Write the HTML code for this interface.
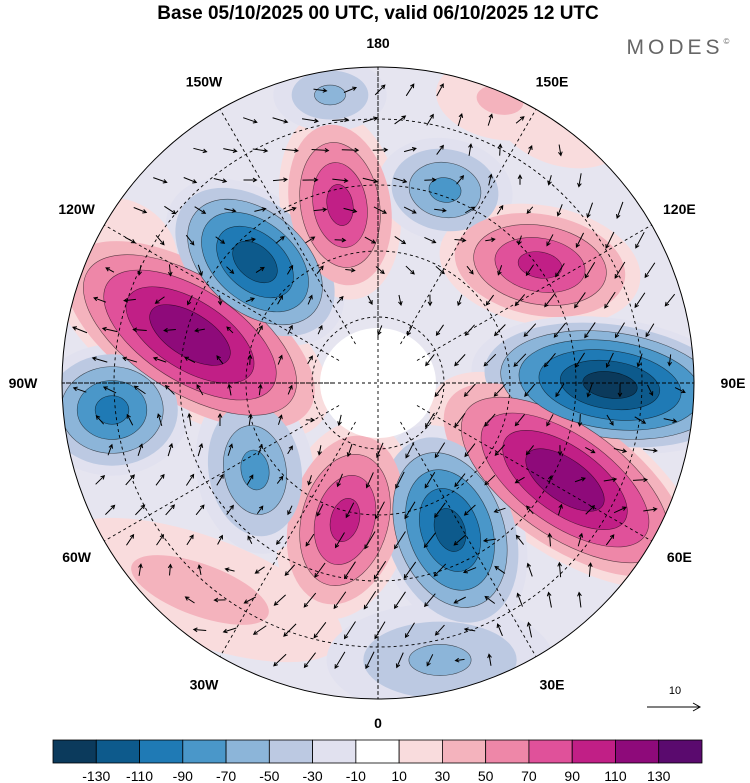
<!DOCTYPE html>
<html><head><meta charset="utf-8"><style>
body{margin:0;background:#fff;font-family:"Liberation Sans",sans-serif}
svg{display:block}
</style></head><body>
<svg id="chart" width="750" height="783" xmlns="http://www.w3.org/2000/svg">
<text x="378" y="19" text-anchor="middle" font-size="19" font-weight="bold" font-family="Liberation Sans">Base 05/10/2025 00 UTC, valid 06/10/2025 12 UTC</text>
<text x="680" y="54" text-anchor="middle" font-size="21" fill="#666" letter-spacing="4" font-family="Liberation Sans">MODES<tspan font-size="8" dy="-10">©</tspan></text>
<defs><clipPath id="disc"><circle cx="378" cy="383" r="316"/></clipPath></defs>
<g id="map" clip-path="url(#disc)">
<circle cx="378" cy="383" r="316" fill="#e6e5f0"/>
<g id="blobs"></g>
<ellipse cx="378" cy="383" rx="58" ry="55" fill="#ffffff"/>
<g id="grid" fill="none" stroke="#000" stroke-width="0.9" stroke-dasharray="3,3"></g>
<g id="arrows" stroke="#000" stroke-width="1" fill="none"></g>
</g>
<circle cx="378" cy="383" r="316" fill="none" stroke="#000" stroke-width="1"/>
<g id="lonlabels" font-size="14" font-weight="bold" text-anchor="middle" font-family="Liberation Sans"></g>
<g>
<text x="675" y="694" font-size="11" text-anchor="middle">10</text>
<line x1="647" y1="707" x2="700" y2="707" stroke="#000"/>
<path d="M693,703 L700,707 L693,711" fill="none" stroke="#000"/>
</g>
<g id="colorbar"></g>
</svg>
<script>
const levels=[-130,-110,-90,-70,-50,-30,-10,10,30,50,70,90,110,130];
const colors=["#0b3a5c","#0d5a8c","#1f7ab5","#4a97c9","#8cb5d9","#bcc9e2","#e1e1ef","#ffffff","#f9dcdd","#f4b3bd","#ee87a8","#e0519a","#c11f86","#8e0a7a","#5a0a6e"];
const blobX=[190,255,340,330,445,540,610,565,450,345,112,255,200,440,500,560,120];
const blobY=[335,262,205,95,190,265,385,480,530,520,410,470,590,660,100,120,250];
const blobRx=[130,85,50,50,58,85,115,130,60,55,65,50,140,100,62,70,60];
const blobRy=[62,55,80,32,44,50,55,60,90,85,55,72,50,50,38,45,50];
const blobRot=[32,40,-10,0,10,10,8,35,-20,15,0,-10,20,0,10,20,30];
const blobPeak=[125,-120,95,-55,-75,95,-135,125,-115,95,-95,-75,40,-55,35,30,30];
const ns="http://www.w3.org/2000/svg";
function mk(t,a,p){const e=document.createElementNS(ns,t);for(const k in a)e.setAttribute(k,a[k]);p.appendChild(e);return e;}
function colorFor(v){let i=0;while(i<levels.length&&v>levels[i])i++;return colors[i];}
const bg=document.getElementById('blobs');
const shapes=[];
for(let b=0;b<blobX.length;b++){
  const pk=blobPeak[b],s=Math.sign(pk);
  const ls=levels.filter(l=>s>0?(l>=10&&l<pk):(l<=-10&&l>pk));
  ls.forEach(l=>shapes.push([b,l,s]));
}
shapes.sort((a,c)=>Math.abs(a[1])-Math.abs(c[1]));
shapes.forEach(([b,l,s])=>{
    const pk=blobPeak[b];
    const r=Math.abs(l)/Math.abs(pk);
    const k=1.25*(1-Math.pow(r,1.3)*0.85);
    const e=mk('ellipse',{cx:blobX[b],cy:blobY[b],rx:blobRx[b]*k,ry:blobRy[b]*k,transform:`rotate(${blobRot[b]} ${blobX[b]} ${blobY[b]})`,fill:colorFor(l+s*1),stroke:"#000","stroke-width":Math.abs(l)>=50?0.6:0,"stroke-opacity":0.6},bg);
    
    
});
const cx=378,cy=383,R=316;
const g=document.getElementById('grid');
[66,132,198,264].forEach(r=>{mk('circle',{cx,cy,r},g);});
for(let a=0;a<360;a+=30){const t=a*Math.PI/180;mk('line',{x1:cx+45*Math.sin(t),y1:cy+45*Math.cos(t),x2:cx+R*Math.sin(t),y2:cy+R*Math.cos(t)},g);}
mk('line',{x1:cx-R,y1:cy,x2:cx+R,y2:cy},g);mk('line',{x1:cx,y1:cy-R,x2:cx,y2:cy+R},g);
const lonLabels=["0","30E","60E","90E","120E","150E","180","150W","120W","90W","60W","30W"];
const ll=document.getElementById('lonlabels');
lonLabels.forEach((s,i)=>{const t=i*30*Math.PI/180;const rr=(i%6==0)?340:(i%3==0?355:348);
 const e=mk('text',{x:cx+rr*Math.sin(t),y:cy+rr*Math.cos(t)+5},ll);e.textContent=s;
 
 });
const ag=document.getElementById('arrows');
function field(x,y){let u=0,v=0;for(let b=0;b<blobX.length;b++){const dx=x-blobX[b],dy=y-blobY[b];const sc=(blobRx[b]+blobRy[b])/1.3;const w=blobPeak[b]*Math.exp(-(dx*dx+dy*dy)/(2*sc*sc));u+=-dy/sc*w;v+=dx/sc*w;}return [u,v];}
for(let y=90;y<700;y+=30)for(let x=70;x<700;x+=30){
 const ox=x+((y/30)%2)*10;if(Math.hypot(ox-cx,y-cy)>305||Math.hypot(ox-cx,y-cy)<45)continue;
 let [u,v]=field(ox,y);const m=Math.hypot(u,v);if(m<2)continue;
 const L=Math.min(24,8+m/7);u=u/m*L;v=v/m*L;
 const x2=ox+u/2,y2=y+v/2,x1=ox-u/2,y1=y-v/2;const an=Math.atan2(v,u);
 const p=mk('path',{d:`M${x1},${y1}L${x2},${y2}M${x2-4*Math.cos(an-0.5)},${y2-4*Math.sin(an-0.5)}L${x2},${y2}L${x2-4*Math.cos(an+0.5)},${y2-4*Math.sin(an+0.5)}`},ag);
 
 
}
const cb=document.getElementById('colorbar');const x0=53,w=649/colors.length;
colors.forEach((c,i)=>{const r=mk('rect',{x:x0+i*w,y:740,width:w,height:23,fill:c,stroke:"#000","stroke-width":0.8},cb);
 
 });
levels.forEach((l,i)=>{const t=mk('text',{x:x0+(i+1)*w,y:781,"font-size":14,"text-anchor":"middle"},cb);t.textContent=l;
 
 });
</script>
</body></html>
